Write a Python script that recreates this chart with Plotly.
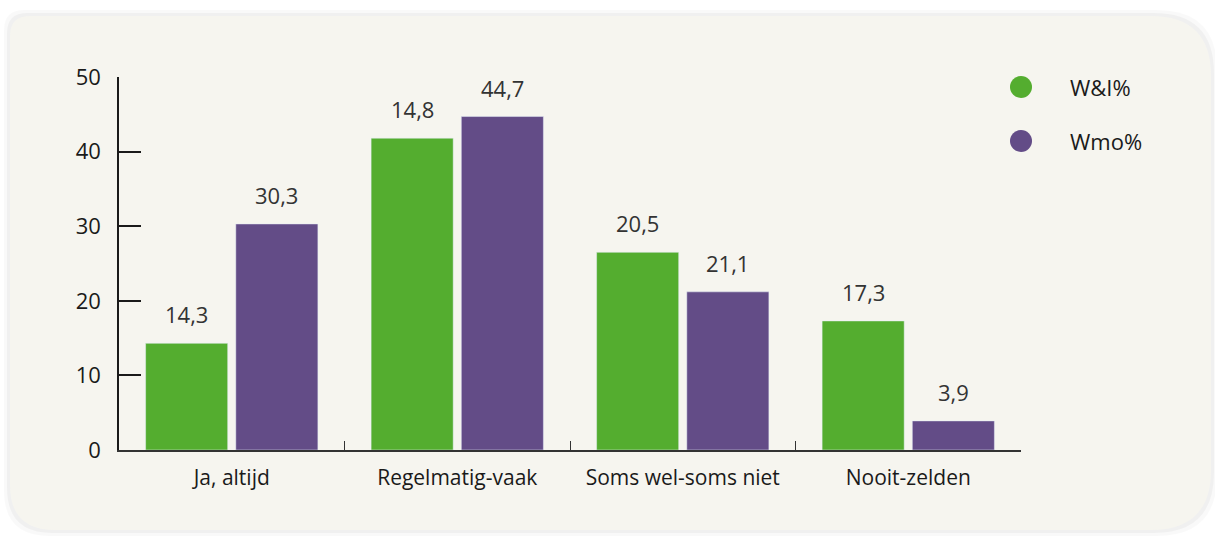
import plotly.graph_objects as go

categories = ["Ja, altijd", "Regelmatig-vaak", "Soms wel-soms niet", "Nooit-zelden"]
wi_values = [14.3, 41.8, 26.5, 17.3]
wi_labels = ["14,3", "14,8", "20,5", "17,3"]
wmo_values = [30.3, 44.7, 21.2, 3.9]
wmo_labels = ["30,3", "44,7", "21,1", "3,9"]
series_names = ["W&I%", "Wmo%"]

GREEN = "#54ad2f"
PURPLE = "#634c87"
CARD = "#f6f5ef"
FONT = "Open Sans, Noto Sans, sans-serif"

W, H = 1215, 537
L, R, T, B = 119, 1021, 77, 450


def px(x):
    return (x - L) / (R - L)


def py(y):
    return (B - y) / (B - T)


def rounded_rect(x0, y0, x1, y1, r_tl, r_tr, r_br, r_bl):
    # path in paper coordinates from pixel corners
    pts = [
        f"M {px(x0 + r_tl)} {py(y0)}",
        f"L {px(x1 - r_tr)} {py(y0)}",
        f"Q {px(x1)} {py(y0)} {px(x1)} {py(y0 + r_tr)}",
        f"L {px(x1)} {py(y1 - r_br)}",
        f"Q {px(x1)} {py(y1)} {px(x1 - r_br)} {py(y1)}",
        f"L {px(x0 + r_bl)} {py(y1)}",
        f"Q {px(x0)} {py(y1)} {px(x0)} {py(y1 - r_bl)}",
        f"L {px(x0)} {py(y0 + r_tl)}",
        f"Q {px(x0)} {py(y0)} {px(x0 + r_tl)} {py(y0)}",
        "Z",
    ]
    return " ".join(pts)


fig = go.Figure()
fig.add_trace(go.Bar(x=categories, y=wi_values, name=series_names[0], marker_color=GREEN))
fig.add_trace(go.Bar(x=categories, y=wmo_values, name=series_names[1], marker_color=PURPLE))

shapes = []
# soft shadow + card
for grow, alpha in [(6, 0.025), (3, 0.035)]:
    shapes.append(dict(type="path", xref="paper", yref="paper", layer="below",
                       path=rounded_rect(10 - grow, 16 - grow, 1211 + grow, 530 + grow, 20, 60, 60, 45),
                       fillcolor=f"rgba(0,0,0,{alpha})", line=dict(width=0)))
shapes.append(dict(type="path", xref="paper", yref="paper", layer="below",
                   path=rounded_rect(10, 16, 1211, 530, 20, 60, 60, 45),
                   fillcolor=CARD, line=dict(width=0)))

annotations = []
# value labels above the bars
for vals, labels, shift in [(wi_values, wi_labels, -45), (wmo_values, wmo_labels, 45)]:
    for cat, v, lab in zip(categories, vals, labels):
        annotations.append(dict(x=cat, y=v, text=lab, showarrow=False,
                                xshift=shift, yshift=12, yanchor="bottom",
                                font=dict(size=22, color="#333333", family=FONT)))

# legend drawn as circles + text
for i, (name, col) in enumerate(zip(series_names, [GREEN, PURPLE])):
    cy = 87 + i * 54
    shapes.append(dict(type="circle", xref="paper", yref="paper",
                       x0=px(1010), x1=px(1032), y0=py(cy + 11), y1=py(cy - 11),
                       fillcolor=col, line=dict(width=0)))
    annotations.append(dict(x=px(1068), y=py(cy), xref="paper", yref="paper",
                            text=name, showarrow=False, xanchor="left", yanchor="middle",
                            font=dict(size=22, color="#1a1a1a", family=FONT)))

fig.update_layout(
    width=W, height=H,
    margin=dict(l=L, r=W - R, t=T, b=H - B),
    paper_bgcolor="white", plot_bgcolor="rgba(0,0,0,0)",
    barmode="group", bargap=0.2, bargroupgap=0.09,
    showlegend=False,
    shapes=shapes, annotations=annotations,
    font=dict(family=FONT, size=22, color="#1a1a1a"),
)
fig.update_yaxes(range=[0, 50], dtick=10, showgrid=False, zeroline=False,
                 showline=True, linecolor="#1a1a1a", linewidth=1.5,
                 ticks="inside", ticklen=22, tickwidth=1.5, tickcolor="#1a1a1a",
                 ticklabelstandoff=12, tickfont=dict(size=22))
fig.update_xaxes(showgrid=False, showline=True, linecolor="#333333", linewidth=1.5,
                 ticks="inside", tickson="boundaries", ticklen=9, tickwidth=1.2,
                 tickcolor="#333333", tickfont=dict(size=21), ticklabelstandoff=8)

fig.write_html("out.html", config={"displayModeBar": False},
               post_script="document.body.style.margin='0';")
